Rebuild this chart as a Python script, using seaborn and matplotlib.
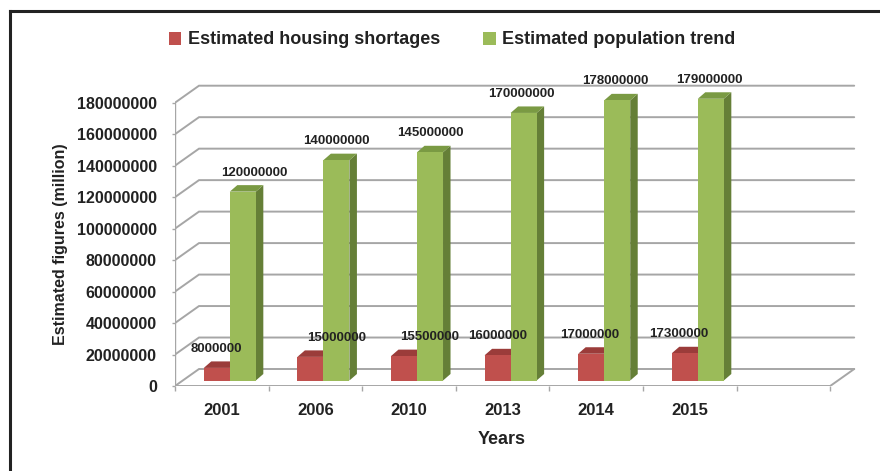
import numpy as np
import pandas as pd
import matplotlib
matplotlib.use("Agg")
import matplotlib.pyplot as plt
import seaborn as sns
from matplotlib.patches import Polygon, Patch
from matplotlib.lines import Line2D

# ---- data ----
years = ["2001", "2006", "2010", "2013", "2014", "2015"]
housing = [8000000, 15000000, 15500000, 16000000, 17000000, 17300000]
population = [120000000, 140000000, 145000000, 170000000, 178000000, 179000000]
series_names = ["Estimated housing shortages", "Estimated population trend"]
ytick_values = [0, 20000000, 40000000, 60000000, 80000000, 100000000,
                120000000, 140000000, 160000000, 180000000]

# ---- style ----
sns.set_theme(style="white")
plt.rcParams['font.family'] = ['Liberation Sans', 'DejaVu Sans']

RED, RED_TOP, RED_SIDE = "#C0504D", "#9B3C3A", "#8A3533"
GREEN, GREEN_TOP, GREEN_SIDE = "#9BBB59", "#7A9A43", "#657F37"
GRID = "#A6A6A6"
TXT = "#222222"

W, H = 880, 471
fig = plt.figure(figsize=(W / 100, H / 100), dpi=100)
px_left, px_right = 175, 860
px_zero, px_top = 386, 62
ax = fig.add_axes([px_left / W, (H - px_zero) / H,
                   (px_right - px_left) / W, (px_zero - px_top) / H])

slot_px = 93.6
n_slots = 7
xmin = -0.5
xmax = xmin + (px_right - px_left) / slot_px
val_per_px = 180000000 / 283.3
ymax = (px_zero - px_top) * val_per_px

df = pd.DataFrame({
    "Year": years * 2,
    "Value": housing + population,
    "Series": [series_names[0]] * len(years) + [series_names[1]] * len(years),
})
sns.barplot(data=df, x="Year", y="Value", hue="Series", order=years,
            hue_order=series_names, palette=[RED, GREEN], width=0.556,
            dodge=True, legend=False, saturation=1, errorbar=None,
            linewidth=0, ax=ax)

ax.set_xlim(xmin, xmax)
ax.set_ylim(0, ymax)

# 3D-like depth parameters (pixels converted to data units)
wall_dx = 24 / slot_px
wall_dy = 17 * val_per_px
off_dx = 8 / slot_px
off_dy = 5.5 * val_per_px
dep_dx = 7.5 / slot_px
dep_dy = 6.5 * val_per_px

x_end = xmin + n_slots

# back wall gridlines with diagonal side-wall segments
for v in ytick_values:
    ax.plot([xmin, xmin + wall_dx, x_end + wall_dx], [v, v + wall_dy, v + wall_dy],
            color=GRID, lw=1.4, zorder=1, solid_joinstyle="miter")
# floor front edge and right diagonal
ax.plot([xmin, x_end, x_end + wall_dx], [0, 0, wall_dy], color=GRID, lw=1.4, zorder=1)
# front vertical axis line
ax.plot([xmin, xmin], [0, ytick_values[-1]], color=GRID, lw=1.0, zorder=1)

# bars: shift front faces and add top/side faces
bars = sorted(ax.patches, key=lambda p: p.get_x())
red_shift = [0, 26, 26, 0, -2, -6]
green_shift = [12, 0, 0, -2, -2, -1]
ri = gi = 0
for p in bars:
    x0 = p.get_x() + off_dx
    w = p.get_width()
    h = p.get_height()
    y0 = off_dy
    x1 = x0 + w
    y1 = y0 + h
    p.set_x(x0)
    p.set_y(y0)
    fc = p.get_facecolor()
    is_red = fc[0] > 0.6 and fc[1] < 0.5
    if is_red:
        top_c, side_c, z = RED_TOP, RED_SIDE, 3
    else:
        top_c, side_c, z = GREEN_TOP, GREEN_SIDE, 4
    p.set_zorder(z + 0.2)
    side = Polygon([(x1, y0), (x1 + dep_dx, y0 + dep_dy),
                    (x1 + dep_dx, y1 + dep_dy), (x1, y1)],
                   closed=True, facecolor=side_c, edgecolor="none", zorder=z + 0.1)
    top = Polygon([(x0, y1), (x0 + dep_dx, y1 + dep_dy),
                   (x1 + dep_dx, y1 + dep_dy), (x1, y1)],
                  closed=True, facecolor=top_c, edgecolor="none", zorder=z + 0.1)
    ax.add_patch(side)
    ax.add_patch(top)
    if is_red:
        shift = red_shift[ri]
        ri += 1
    else:
        shift = green_shift[gi]
        gi += 1
    ax.annotate(f"{int(round(h))}", xy=(x0 + w / 2, y1), xytext=(shift * 0.72, 19 * 0.72),
                textcoords="offset points", ha="center", va="center",
                fontsize=9.5, fontweight="bold", color=TXT, zorder=6)

# axes cosmetics
for s in ax.spines.values():
    s.set_visible(False)
ax.set_facecolor("none")
ax.set_xlabel("")
ax.set_ylabel("")
ax.set_yticks(ytick_values)
ax.set_yticklabels([str(v) for v in ytick_values])
ax.set_xticks(range(len(years)))
ax.set_xticklabels(years)
ax.set_xticks(np.arange(xmin, x_end + 0.01, 1.0), minor=True)
ax.tick_params(axis="y", which="major", left=True, length=2.2, width=1.0, color=GRID,
               pad=10.8, labelsize=11.5, labelcolor=TXT)
ax.tick_params(axis="x", which="major", bottom=True, length=0, pad=12,
               labelsize=12, labelcolor=TXT)
ax.tick_params(axis="x", which="minor", bottom=True, length=3.6, width=1.0, color=GRID,
               direction="out")
for lab in ax.get_yticklabels() + ax.get_xticklabels():
    lab.set_fontweight("bold")
ax.grid(False)

# axis titles
fig.text(60 / W, 1 - 244 / H, "Estimated figures (million)", rotation=90,
         ha="center", va="center", fontsize=11.5, fontweight="bold", color=TXT)
fig.text(502 / W, 1 - 440 / H, "Years", ha="center", va="center",
         fontsize=13, fontweight="bold", color=TXT)

# legend
handles = [Patch(facecolor=RED, edgecolor="none"), Patch(facecolor=GREEN, edgecolor="none")]
fig.legend(handles=handles, labels=series_names, loc="center",
           bbox_to_anchor=(452 / W, 1 - 40 / H), ncol=2, frameon=False,
           prop={"size": 13, "weight": "bold"}, handlelength=0.7, handleheight=0.7,
           handletextpad=0.35, columnspacing=2.4, labelcolor=TXT)

# outer border (cut off at right and bottom)
bx, by = 10 / W, 1 - 11 / H
fig.add_artist(Line2D([bx, bx], [by, 0], transform=fig.transFigure,
                      color="#222222", lw=2.2, solid_capstyle="projecting"))
fig.add_artist(Line2D([bx, 1], [by, by], transform=fig.transFigure,
                      color="#222222", lw=2.2, solid_capstyle="projecting"))

fig.savefig("out.png", dpi=100)
